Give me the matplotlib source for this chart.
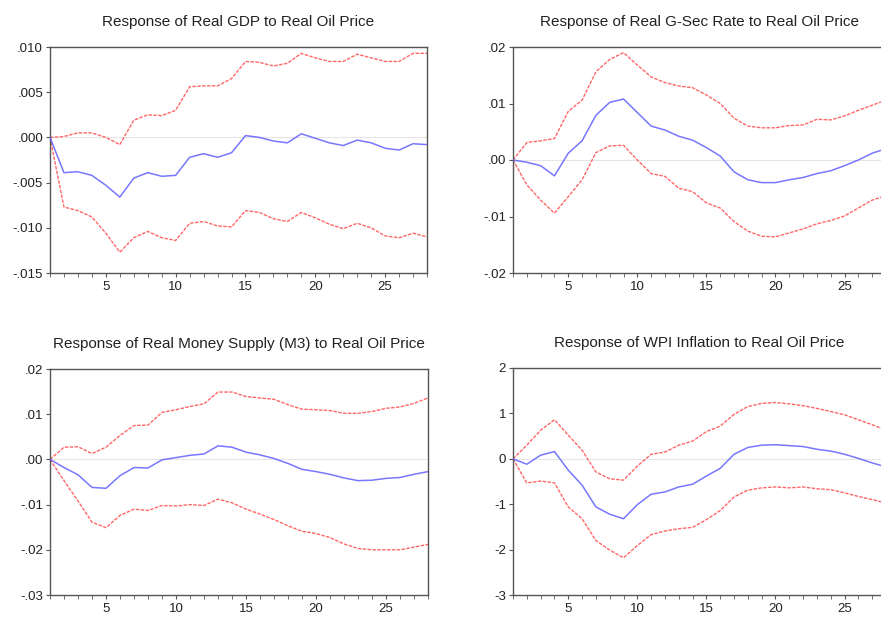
import matplotlib
matplotlib.use("Agg")
import matplotlib.pyplot as plt
from matplotlib.ticker import FuncFormatter

plt.rcParams["font.family"] = ["Liberation Sans", "DejaVu Sans"]

periods = list(range(1, 29))

# Response of Real GDP
gdp_mid = [0, -0.0039, -0.0038, -0.0042, -0.0053, -0.0066, -0.0045, -0.0039, -0.0043, -0.0042,
           -0.0022, -0.0018, -0.0022, -0.0017, 0.0002, 0.0000, -0.0004, -0.0006, 0.0004, -0.0001,
           -0.0006, -0.0009, -0.0003, -0.0006, -0.0012, -0.0014, -0.0007, -0.0008]
gdp_hi = [0, 0.0001, 0.0005, 0.0005, 0.0000, -0.0008, 0.0019, 0.0025, 0.0024, 0.0030,
          0.0056, 0.0057, 0.0057, 0.0065, 0.0084, 0.0083, 0.0079, 0.0082, 0.0093, 0.0088,
          0.0084, 0.0084, 0.0092, 0.0088, 0.0084, 0.0084, 0.0093, 0.0093]
gdp_lo = [0, -0.0077, -0.0081, -0.0088, -0.0106, -0.0127, -0.0111, -0.0104, -0.0111, -0.0114,
          -0.0095, -0.0093, -0.0098, -0.0099, -0.0081, -0.0083, -0.0090, -0.0093, -0.0083, -0.0089,
          -0.0096, -0.0101, -0.0095, -0.0100, -0.0109, -0.0111, -0.0106, -0.0110]

# Response of Real G-Sec Rate
gsec_mid = [0, -0.0004, -0.0010, -0.0028, 0.0012, 0.0034, 0.0079, 0.0102, 0.0108, 0.0084,
            0.0060, 0.0053, 0.0042, 0.0035, 0.0022, 0.0007, -0.0021, -0.0035, -0.0040, -0.0040,
            -0.0035, -0.0031, -0.0024, -0.0019, -0.0010, 0.0000, 0.0012, 0.0020]
gsec_hi = [0, 0.0031, 0.0034, 0.0038, 0.0086, 0.0106, 0.0156, 0.0178, 0.0190, 0.0168,
           0.0147, 0.0137, 0.0131, 0.0128, 0.0115, 0.0100, 0.0074, 0.0060, 0.0057, 0.0057,
           0.0061, 0.0062, 0.0072, 0.0071, 0.0078, 0.0088, 0.0097, 0.0106]
gsec_lo = [0, -0.0044, -0.0071, -0.0094, -0.0065, -0.0035, 0.0013, 0.0025, 0.0026, 0.0000,
           -0.0024, -0.0029, -0.0050, -0.0056, -0.0076, -0.0085, -0.0109, -0.0126, -0.0135, -0.0136,
           -0.0129, -0.0122, -0.0113, -0.0107, -0.0099, -0.0085, -0.0071, -0.0063]

# Response of Real Money Supply (M3)
m3_mid = [0, -0.0018, -0.0034, -0.0062, -0.0064, -0.0036, -0.0018, -0.0019, -0.0001, 0.0004,
          0.0009, 0.0012, 0.0030, 0.0027, 0.0016, 0.0010, 0.0002, -0.0009, -0.0022, -0.0027,
          -0.0033, -0.0041, -0.0047, -0.0046, -0.0042, -0.0040, -0.0033, -0.0027]
m3_hi = [0, 0.0027, 0.0028, 0.0013, 0.0027, 0.0053, 0.0075, 0.0076, 0.0104, 0.0110,
         0.0117, 0.0123, 0.0149, 0.0149, 0.0139, 0.0136, 0.0133, 0.0121, 0.0111, 0.0110,
         0.0108, 0.0102, 0.0102, 0.0106, 0.0113, 0.0116, 0.0124, 0.0136]
m3_lo = [0, -0.0047, -0.0092, -0.0139, -0.0151, -0.0124, -0.0110, -0.0113, -0.0102, -0.0103,
         -0.0100, -0.0102, -0.0088, -0.0096, -0.0110, -0.0121, -0.0133, -0.0147, -0.0159, -0.0164,
         -0.0173, -0.0187, -0.0197, -0.0200, -0.0200, -0.0200, -0.0194, -0.0188]

# Response of WPI Inflation
wpi_mid = [0, -0.12, 0.08, 0.16, -0.25, -0.58, -1.06, -1.22, -1.32, -1.01,
           -0.78, -0.73, -0.62, -0.56, -0.38, -0.21, 0.10, 0.25, 0.30, 0.31,
           0.29, 0.27, 0.21, 0.17, 0.10, 0.01, -0.09, -0.18]
wpi_hi = [0, 0.30, 0.63, 0.86, 0.52, 0.19, -0.29, -0.44, -0.47, -0.16,
          0.10, 0.15, 0.30, 0.39, 0.60, 0.72, 0.98, 1.15, 1.22, 1.24,
          1.21, 1.17, 1.11, 1.04, 0.97, 0.86, 0.75, 0.63]
wpi_lo = [0, -0.53, -0.49, -0.53, -1.06, -1.32, -1.80, -2.01, -2.18, -1.91,
          -1.67, -1.59, -1.54, -1.51, -1.34, -1.14, -0.84, -0.69, -0.64, -0.62,
          -0.64, -0.62, -0.66, -0.68, -0.75, -0.83, -0.90, -0.97]

titles = [
    "Response of Real GDP to Real Oil Price",
    "Response of Real G-Sec Rate to Real Oil Price",
    "Response of Real Money Supply (M3) to Real Oil Price",
    "Response of WPI Inflation to Real Oil Price",
]
y_ticks = [
    [-0.015, -0.010, -0.005, 0.000, 0.005, 0.010],
    [-0.02, -0.01, 0.00, 0.01, 0.02],
    [-0.03, -0.02, -0.01, 0.00, 0.01, 0.02],
    [-3, -2, -1, 0, 1, 2],
]
decimals = [3, 2, 2, 0]


def eviews_fmt(nd):
    # EViews style: drop the leading zero (".010", "-.015")
    def fmt(v, pos):
        s = f"{v:.{nd}f}"
        if nd > 0:
            s = s.replace("0.", ".", 1)
        return s
    return FuncFormatter(fmt)


W, H = 881, 617
fig = plt.figure(figsize=(W / 100, H / 100), dpi=100)

# axes boxes in pixels: left, top, right, bottom
boxes = [(50, 47, 427, 273), (513, 47, 886, 273), (50, 369, 428, 595), (513, 368, 886, 595)]
series = [
    (gdp_mid, gdp_hi, gdp_lo),
    (gsec_mid, gsec_hi, gsec_lo),
    (m3_mid, m3_hi, m3_lo),
    (wpi_mid, wpi_hi, wpi_lo),
]

frame_col = "#555555"
for i, (l, t, r, b) in enumerate(boxes):
    ax = fig.add_axes([l / W, 1 - b / H, (r - l) / W, (b - t) / H])
    mid, hi, lo = series[i]
    ax.axhline(0, color="#e6e6e6", lw=0.8, zorder=1)
    ax.plot(periods, hi, color="#ff4040", lw=1.0, ls=(0, (2.5, 1.0)), alpha=0.8, zorder=2)
    ax.plot(periods, lo, color="#ff4040", lw=1.0, ls=(0, (2.5, 1.0)), alpha=0.8, zorder=2)
    ax.plot(periods, mid, color="#5555ff", lw=1.1, alpha=0.8, zorder=3)
    ax.set_xlim(1, 28)
    ax.set_ylim(y_ticks[i][0], y_ticks[i][-1])
    ax.set_yticks(y_ticks[i])
    ax.yaxis.set_major_formatter(eviews_fmt(decimals[i]))
    ax.set_xticks([5, 10, 15, 20, 25])
    ax.set_xticks(periods, minor=True)
    ax.tick_params(axis="x", which="both", direction="out", length=3, color=frame_col,
                   labelsize=9.5, labelcolor="#222222", pad=3)
    ax.tick_params(axis="y", direction="out", length=3, color=frame_col,
                   labelsize=9.5, labelcolor="#222222", pad=2)
    for sp in ax.spines.values():
        sp.set_color(frame_col)
        sp.set_linewidth(1.0)
    ax.set_title(titles[i], fontsize=11, color="#222222", pad=15)

fig.savefig("out.png", dpi=100)
